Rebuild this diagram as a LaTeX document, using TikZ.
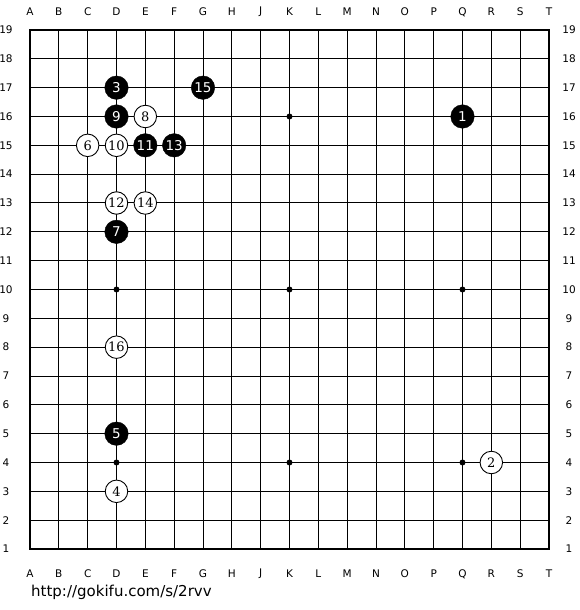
\documentclass[tikz,border=0pt]{standalone}
\usepackage{fontspec}
\setmainfont{DejaVu Sans}
\newfontfamily\stonefont{DejaVu Serif}
\begin{document}
\begin{tikzpicture}[x=1pt,y=-1pt,
  gridline/.style={line width=1pt,black},
  border/.style={line width=2pt,black},
  coordlabel/.style={font=\fontsize{10.5}{12}\selectfont,inner sep=0pt},
  bstone/.style={circle,fill=black,draw=black,minimum size=23.5pt,inner sep=0pt,text=white,font=\fontsize{13.5}{14}\selectfont},
  wstone/.style={circle,fill=white,draw=black,line width=0.9pt,minimum size=22.5pt,inner sep=0pt,font=\stonefont\fontsize{13}{14}\selectfont},
  hoshi/.style={circle,fill=black,inner sep=0pt,minimum size=6pt}]
\useasboundingbox (0,0) rectangle (580,610);
\def\s{28.833}
% grid
\foreach \i in {1,...,17} {
  \draw[gridline] ({30+\i*\s},30) -- ({30+\i*\s},549);
  \draw[gridline] (30,{30+\i*\s}) -- (549,{30+\i*\s});
}
\draw[border] (30,30) rectangle (549,549);
% coordinates
\foreach \l [count=\i from 0] in {A,B,C,D,E,F,G,H,J,K,L,M,N,O,P,Q,R,S,T} {
  \node[coordlabel] (top\i) at ({30+\i*\s},12) {\l};
  \node[coordlabel] (bot\i) at ({30+\i*\s},574) {\l};
}
\foreach \n in {1,...,19} {
  \node[coordlabel] (left\n) at (6,{30+(19-\n)*\s}) {\n};
  \node[coordlabel] (right\n) at (569,{30+(19-\n)*\s}) {\n};
}
% star points
\foreach \c/\r [count=\k] in {3/4,9/4,15/4,3/10,9/10,15/10,3/16,9/16,15/16} {
  \node[hoshi] (star\k) at ({30+\c*\s},{30+(19-\r)*\s}) {};
}
% stones
\foreach \n/\c/\r in {1/15/16,3/3/17,5/3/5,7/3/12,9/3/16,11/4/15,13/5/15,15/6/17} {
  \node[bstone] (s\n) at ({30+\c*\s},{30+(19-\r)*\s}) {\n};
}
\foreach \n/\c/\r in {2/16/4,4/3/3,6/2/15,8/4/16,10/3/15,12/3/13,14/4/13,16/3/8} {
  \node[wstone] (s\n) at ({30+\c*\s},{30+(19-\r)*\s}) {\n};
}
\node[anchor=west,inner sep=0pt,font=\fontsize{15}{16}\selectfont] (url) at (31,592) {http://gokifu.com/s/2rvv};
\end{tikzpicture}
\end{document}
